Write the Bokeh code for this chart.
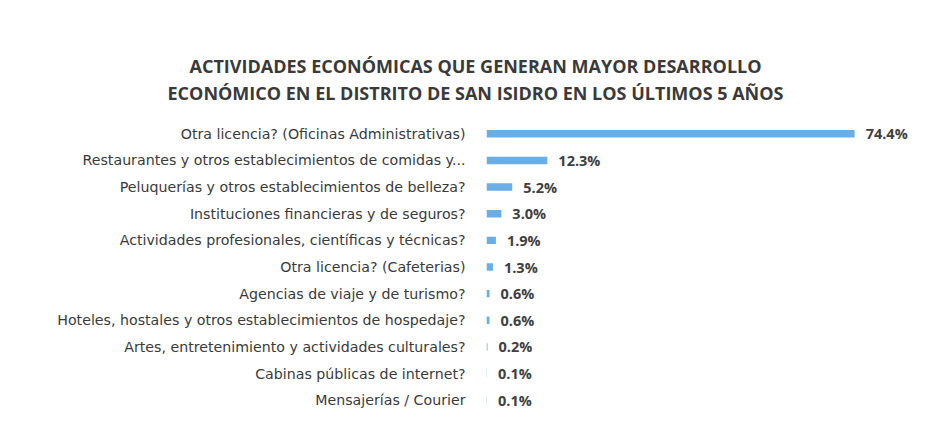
from bokeh.plotting import figure
from bokeh.models import ColumnDataSource, FactorRange, Range1d, Title, LabelSet
from bokeh.core.properties import value
from bokeh.embed import file_html
from bokeh.resources import INLINE

categories = [
    "Otra licencia? (Oficinas Administrativas)",
    "Restaurantes y otros establecimientos de comidas y...",
    "Peluquerías y otros establecimientos de belleza?",
    "Instituciones financieras y de seguros?",
    "Actividades profesionales, científicas y técnicas?",
    "Otra licencia? (Cafeterias)",
    "Agencias de viaje y de turismo?",
    "Hoteles, hostales y otros establecimientos de hospedaje?",
    "Artes, entretenimiento y actividades culturales?",
    "Cabinas públicas de internet?",
    "Mensajerías / Courier",
]
values = [74.4, 12.3, 5.2, 3.0, 1.9, 1.3, 0.6, 0.6, 0.2, 0.1, 0.1]
value_labels = [f"{v:.1f}%" for v in values]
title_lines = [
    "ACTIVIDADES ECONÓMICAS QUE GENERAN MAYOR DESARROLLO",
    "ECONÓMICO EN EL DISTRITO DE SAN ISIDRO EN LOS ÚLTIMOS 5 AÑOS",
]

src = ColumnDataSource(dict(cat=categories, val=values, lab=value_labels))

p = figure(
    width=918, height=425,
    y_range=FactorRange(factors=list(reversed(categories)), range_padding=0),
    x_range=Range1d(0, 86.7),
    output_backend="svg", toolbar_location=None,
    min_border_left=486, min_border_right=3, min_border_top=120, min_border_bottom=12,
)
p.outline_line_color = None
p.background_fill_color = "white"
p.border_fill_color = "white"
p.grid.visible = False
p.xaxis.visible = False

p.hbar(y="cat", right="val", left=0, height=0.28, source=src,
       fill_color="#6aaee6", line_color=None)

labels = LabelSet(x="val", y="cat", text="lab", source=src, x_offset=11,
                  text_baseline="middle", text_align="left",
                  text_font=value("Open Sans"), text_font_size=value("14.5px"),
                  text_font_style=value("bold"), text_color=value("#404040"))
p.add_layout(labels)

ya = p.yaxis[0]
ya.axis_line_color = None
ya.major_tick_line_color = None
ya.minor_tick_line_color = None
ya.major_label_standoff = 15
ya.major_label_text_font = "DejaVu Sans"
ya.major_label_text_font_size = "14.2px"
ya.major_label_text_color = "#3a3a3a"

# spacer between frame and title block
p.add_layout(Title(text=" ", text_font_size="1px", standoff=11), "above")
# two title lines, first added sits closest to the frame
for line, off, sb in [(title_lines[1], -319, 3), (title_lines[0], -297, 0)]:
    p.add_layout(Title(text=line, align="left", offset=off, standoff=sb,
                       text_font="Open Sans", text_font_size="18px",
                       text_font_style="bold", text_color="#3a3a3a"), "above")

open("out.html", "w").write(file_html(p, INLINE))
